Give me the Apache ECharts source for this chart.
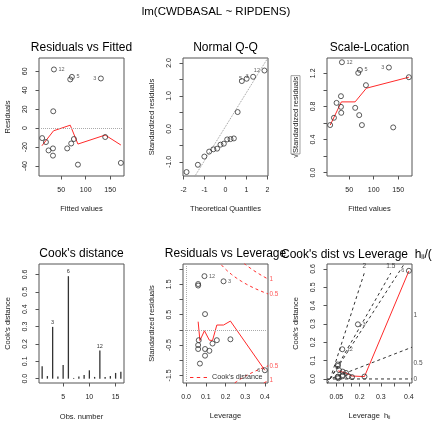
<!DOCTYPE html>
<html><head><meta charset="utf-8">
<script src="https://cdn.jsdelivr.net/npm/echarts@6/dist/echarts.min.js"></script>
<style>html,body{margin:0;padding:0;background:#fff}#c{width:432px;height:432px}</style>
</head><body><div id="c"></div>
<script>
// ---------------- data ----------------
const mainTitle = 'lm(CWDBASAL ~ RIPDENS)';
const panelTitles = ['Residuals vs Fitted', 'Normal Q-Q', 'Scale-Location', "Cook's distance", 'Residuals vs Leverage'];

// panel 1 & 3: fitted values
const fittedValues    = [11, 18.8, 24.1, 33.1, 33.1, 33.7, 35.1, 62.2, 68.4, 71.8, 70.4, 75.9, 84.1, 131, 139.8, 171.8];
const residualValues  = [-10.5, -14.7, -23.5, -21.4, -29, 17.8, 61.9, -21.4, 51.4, 54.1, -16.2, -11.5, -38.5, 52.4, -9.4, -36.7];
const sqrtAbsStdRes   = [0.575, 0.663, 0.843, 0.924, 0.795, 0.723, 1.334, 0.783, 1.205, 1.241, 0.695, 0.575, 1.057, 1.27, 0.547, 1.153];
const fittedIdIndex   = [6, 9, 13];
const fittedIdLabel   = ['12', '5', '3'];
const smoothResX = [10.6, 34.3, 68.4, 84.1, 139.8, 171.8];
const smoothResY = [-18.6, -2.8, 3.1, -16.8, -7.3, -17.8];
const smoothSLX  = [11.2, 34, 62, 85, 171.8];
const smoothSLY  = [0.575, 0.855, 0.855, 1.02, 1.153];

// panel 2: normal Q-Q
const theoQuantiles = [-1.86, -1.32, -1.01, -0.78, -0.58, -0.40, -0.24, -0.08, 0.08, 0.24, 0.40, 0.58, 0.78, 1.01, 1.32, 1.86];
const sortedStdRes  = [-1.31, -1.09, -0.84, -0.69, -0.62, -0.60, -0.48, -0.45, -0.32, -0.31, -0.29, 0.51, 1.45, 1.52, 1.58, 1.77];
const qqIdIndex = [15, 14, 13];
const qqIdLabel = ['12', '3', '5'];
const qqLineIntercept = 0.07, qqLineSlope = 1.03;

// panel 4: Cook's distance by observation
const obsNumbers = [1, 2, 3, 4, 5, 6, 7, 8, 9, 10, 11, 12, 13, 14, 15, 16];
const cooksDistance = [0.071, 0.015, 0.298, 0.013, 0.079, 0.59, 0.004, 0.013, 0.021, 0.048, 0.01, 0.162, 0.01, 0.015, 0.033, 0.04];
const cookIdObs = [3, 6, 12];

// panel 5: residuals vs leverage
const leverageValues = [0.093, 0.061, 0.061, 0.19, 0.096, 0.064, 0.061, 0.061, 0.096, 0.118, 0.096, 0.134, 0.156, 0.225, 0.07, 0.40];
const stdResLev      = [1.77, 1.51, 1.46, 1.60, 0.52, -0.34, -0.50, -0.63, -0.63, -0.69, -0.85, -0.45, -0.34, -0.31, -1.11, -1.33];
const cookOfPoint    = [0.162, 0.079, 0.071, 0.298, 0.015, 0.004, 0.01, 0.013, 0.021, 0.033, 0.04, 0.015, 0.01, 0.013, 0.048, 0.59];
const levIdIndex = [0, 3, 15];
const levIdLabel = ['12', '3', '6'];
const smoothLevX = [0.061, 0.07, 0.093, 0.118, 0.134, 0.156, 0.19, 0.225, 0.40];
const smoothLevY = [0.27, -0.35, -0.03, -0.34, -0.35, 0.16, 0.16, 0.29, -1.33];
const cookLevels = [0.5, 1];
const nCoef = 2;

// panel 6: Cook's distance vs leverage h/(1-h)
const smoothCookH = [0.064, 0.116, 0.158, 0.225, 0.40];
const smoothCookY = [0.044, 0.033, 0.016, 0.013, 0.589];
const cookContourR = [0, 0.5, 1, 1.5, 2];

// tick values / labels
const ticksFitted = [50, 100, 150];
const ticksRes = [-40, -20, 0, 20, 40, 60];
const ticksQx = [-2, -1, 0, 1, 2];
const ticksQy = [-1, -0.5, 0, 0.5, 1, 1.5, 2];
const labelsQy = [-1, 0, 1, 2];
const ticksSL = [0, 0.2, 0.4, 0.6, 0.8, 1.0, 1.2];
const labelsSL = [0, 0.4, 0.8, 1.2];
const ticksObs = [5, 10, 15];
const ticksCook = [0, 0.1, 0.2, 0.3, 0.4, 0.5, 0.6];
const ticksLevX = [0, 0.1, 0.2, 0.3, 0.4];
const ticksLevY = [-1.5, -1, -0.5, 0, 0.5, 1, 1.5, 2];
const labelsLevY = [-1.5, -0.5, 0.5, 1.5];
const ticksHat = [0.05, 0.1, 0.15, 0.2, 0.25, 0.3, 0.35, 0.4];
const labelsHat = [0.05, 0.2, 0.3, 0.4];

// ---------------- layout ----------------
const FONT = '"Liberation Sans", Arial, Helvetica, sans-serif';
const INK = '#222', BOX = '#555', RED = '#ff2a2a';
const grids = [[39,58,85,118],[183,58,85,118],[327,58,85,118],[39,264,85,119],[183,264,85,119],[327,264,85,119]];
const lims = {
  x: [[4.6,178.2],[-2.03,2.03],[4.6,178.2],[0.4,16.6],[-0.016,0.416],[-0.027,0.693]],
  y: [[-50.5,74],[-1.43,2.15],[-0.04,1.385],[-0.025,0.66],[-1.75,2.17],[-0.022,0.627]]
};
const g = h => h / (1 - h);

function axisBase(gi, lim, ticks, labels, fmt, name, gap, isY, nameRich) {
  return {
    type: 'value', gridIndex: gi, min: lim[0], max: lim[1],
    axisLine: { show: false, onZero: false }, splitLine: { show: false },
    axisTick: { show: true, length: 3.5, customValues: ticks, lineStyle: { color: BOX, width: 1 } },
    axisLabel: { show: true, customValues: labels, formatter: fmt, fontSize: 7, color: INK, fontFamily: FONT, margin: isY ? 10 : 11, rotate: isY ? 90 : 0 },
    name: name, nameLocation: 'middle', nameGap: gap,
    nameTextStyle: Object.assign({ fontSize: 7.5, color: INK, fontFamily: FONT }, nameRich ? { rich: nameRich } : {})
  };
}
const f0 = v => String(Math.round(v));
const f1 = v => v.toFixed(1);
const fHat = v => String(+(v / (1 + v)).toFixed(2));

const xAxes = [
  axisBase(0, lims.x[0], ticksFitted, ticksFitted, f0, 'Fitted values', 29, false),
  axisBase(1, lims.x[1], ticksQx, ticksQx, f0, 'Theoretical Quantiles', 29, false),
  axisBase(2, lims.x[2], ticksFitted, ticksFitted, f0, 'Fitted values', 29, false),
  axisBase(3, lims.x[3], ticksObs, ticksObs, f0, 'Obs. number', 30, false),
  axisBase(4, lims.x[4], ticksLevX, ticksLevX, f1, 'Leverage', 29, false),
  axisBase(5, lims.x[5], ticksHat.map(g), labelsHat.map(g), fHat, 'Leverage  h{s|ii}', 28, false,
    { s: { fontSize: 5, color: INK, fontFamily: FONT, padding: [4, 0, 0, 0] } })
];
const yAxes = [
  axisBase(0, lims.y[0], ticksRes, ticksRes, f0, 'Residuals', 27, true),
  axisBase(1, lims.y[1], ticksQy, labelsQy, f1, 'Standardized residuals', 27, true),
  axisBase(2, lims.y[2], ticksSL, labelsSL, f1, '{r|√}{b|Standardized residuals}', 27, true,
    { r: { fontSize: 8, color: INK, fontFamily: FONT }, b: { fontSize: 7.5, color: INK, fontFamily: FONT, borderColor: '#888', borderWidth: 0.8, padding: [1, 1, 0, 1] } }),
  axisBase(3, lims.y[3], ticksCook, ticksCook, f1, "Cook's distance", 27, true),
  axisBase(4, lims.y[4], ticksLevY, labelsLevY, f1, 'Standardized residuals', 27, true),
  axisBase(5, lims.y[5], ticksCook, ticksCook, f1, "Cook's distance", 27, true)
];

const ptStyle = { color: 'rgba(0,0,0,0)', borderColor: '#333', borderWidth: 1 };
const ptLabel = { fontSize: 5.5, color: '#333', fontFamily: FONT, distance: 1.5 };
function scatter(gi, xs, ys, idIdx, idLab, posFn) {
  return {
    type: 'scatter', xAxisIndex: gi, yAxisIndex: gi, symbol: 'circle', symbolSize: 5,
    itemStyle: ptStyle, label: ptLabel, z: 4, silent: true,
    data: xs.map((x, i) => {
      const d = { value: [x, ys[i]] };
      const k = idIdx.indexOf(i);
      if (k >= 0) d.label = { show: true, formatter: idLab[k], position: posFn(x) };
      return d;
    })
  };
}
function line(gi, xs, ys, style, extra) {
  return Object.assign({
    type: 'line', xAxisIndex: gi, yAxisIndex: gi, symbol: 'none', silent: true, clip: true, z: 3,
    lineStyle: style, data: xs.map((x, i) => [x, ys[i]])
  }, extra || {});
}
function textPts(gi, pts, color, pos, size) {
  return {
    type: 'scatter', xAxisIndex: gi, yAxisIndex: gi, symbolSize: 0, clip: false, silent: true, z: 5,
    label: { show: true, position: pos, distance: 1.5, fontSize: size, color: color, fontFamily: FONT, formatter: p => p.data.t },
    data: pts.map(p => ({ value: [p[0], p[1]], t: p[2] }))
  };
}
const redLine = { color: RED, width: 1 };
const zeroMark = (axes) => ({ silent: true, symbol: ['none', 'none'], label: { show: false },
  lineStyle: { type: 'dotted', color: '#aaa', width: 1 }, data: axes });

const series = [];
// panel 1
const mid1 = (lims.x[0][0] + lims.x[0][1]) / 2;
series.push(Object.assign(scatter(0, fittedValues, residualValues, fittedIdIndex, fittedIdLabel, x => x > mid1 ? 'left' : 'right'),
  { markLine: zeroMark([{ yAxis: 0 }]) }));
series.push(line(0, smoothResX, smoothResY, redLine));
// panel 2
series.push(scatter(1, theoQuantiles, sortedStdRes, qqIdIndex, qqIdLabel, x => x > 0 ? 'left' : 'right'));
series.push(line(1, lims.x[1], lims.x[1].map(x => qqLineIntercept + qqLineSlope * x), { color: '#999', width: 1, type: 'dotted' }));
// panel 3
series.push(scatter(2, fittedValues, sqrtAbsStdRes, fittedIdIndex, fittedIdLabel, x => x > mid1 ? 'left' : 'right'));
series.push(line(2, smoothSLX, smoothSLY, redLine));
// panel 4
series.push({
  type: 'bar', xAxisIndex: 3, yAxisIndex: 3, barWidth: 1.3, silent: true,
  itemStyle: { color: '#333' },
  label: { show: false, position: 'top', distance: 1.5, fontSize: 5.5, color: '#333', fontFamily: FONT },
  data: obsNumbers.map((n, i) => {
    const d = { value: [n, cooksDistance[i]] };
    if (cookIdObs.indexOf(n) >= 0) d.label = { show: true, formatter: String(n) };
    return d;
  })
});
// panel 5
const mid5 = (Math.min(...leverageValues) + Math.max(...leverageValues)) / 2;
series.push(Object.assign(scatter(4, leverageValues, stdResLev, levIdIndex, levIdLabel, x => x > mid5 ? 'left' : 'right'),
  { markLine: zeroMark([{ yAxis: 0 }, { xAxis: 0 }]) }));
series.push(line(4, smoothLevX, smoothLevY, redLine));
const hStart = Math.max(...leverageValues) / 100;
const hGrid = [];
for (let k = 0; k <= 100; k++) hGrid.push(hStart + (lims.x[4][1] - hStart) * k / 100);
const levLabels = [];
cookLevels.forEach((c, ci) => {
  [1, -1].forEach((s, si) => {
    series.push(line(4, hGrid, hGrid.map(h => s * Math.sqrt(c * nCoef * (1 - h) / h)),
      { color: RED, width: 1, type: [3, 3] },
      { name: (ci === 0 && si === 0) ? "Cook's distance" : 'cook' + ci + si, itemStyle: { color: RED } }));
    const xm = lims.x[4][1];
    levLabels.push([xm, s * Math.sqrt(c * nCoef * (1 - xm) / xm), String(c)]);
  });
});
series.push(textPts(4, levLabels, RED, 'right', 6.3));
// panel 6
series.push(scatter(5, leverageValues.map(g), cookOfPoint, levIdIndex, levIdLabel,
  x => x > (g(Math.min(...leverageValues)) + g(Math.max(...leverageValues))) / 2 ? 'left' : 'right'));
series.push(line(5, smoothCookH.map(g), smoothCookY, redLine));
const xmax6 = lims.x[5][1], xmin6 = lims.x[5][0], ymax6 = lims.y[5][1];
const strH = 0.033;
const rightLab = [], topLab = [];
cookContourR.forEach(b => {
  const b2 = b * b;
  const dash = { color: '#333', width: 1, type: [3, 3] };
  if (nCoef * ymax6 > b2 * xmax6) {
    series.push(line(5, [xmin6, xmax6], [b2 * xmin6, b2 * xmax6], dash));
    const xi = xmax6 + 0.004;
    rightLab.push([xmax6, b2 * xi / nCoef, String(b)]);
  } else {
    const yi = ymax6 - 1.5 * strH;
    const xi = nCoef * yi / b2;
    series.push(line(5, [0, xi], [0, yi], dash));
    topLab.push([xi, ymax6 - 0.8 * strH + 0.016, String(b)]);
  }
});
series.push(textPts(5, rightLab, INK, 'right', 6.5));
series.push(textPts(5, topLab, INK, 'inside', 6.5));

const titleStyle = { fontSize: 12, fontWeight: 'normal', color: '#000', fontFamily: FONT };
const titles = [{ text: mainTitle, left: 216, top: 6, textAlign: 'center', textStyle: Object.assign({}, titleStyle, { fontSize: 11.5 }), padding: 0 }];
panelTitles.forEach((t, i) => {
  const gr = grids[i];
  titles.push({ text: t, left: gr[0] + gr[2] / 2, top: gr[1] - 16, textAlign: 'center', textStyle: titleStyle, padding: 0 });
});
titles.push({ text: "Cook's dist vs Leverage  h{s|ii}/(1 − h{s|ii})", left: 281, top: grids[5][1] - 16, textAlign: 'left', padding: 0,
  textStyle: Object.assign({}, titleStyle, { rich: { s: { fontSize: 7, color: '#000', fontFamily: FONT, padding: [6, 0, 0, 0] } } }) });

const chart = echarts.init(document.getElementById('c'), null, { renderer: 'canvas', width: 432, height: 432 });
chart.setOption({
  animation: false,
  backgroundColor: '#fff',
  textStyle: { fontFamily: FONT },
  title: titles,
  legend: {
    data: [{ name: "Cook's distance", icon: 'path://M0,0h3v1h-3z M6,0h3v1h-3z M12,0h3v1h-3z' }],
    left: 190, top: 374, padding: 0, itemWidth: 17, itemHeight: 1.2, itemGap: 4,
    itemStyle: { color: RED, borderWidth: 0 },
    selectedMode: false, textStyle: { fontSize: 7.2, color: '#333', fontFamily: FONT }
  },
  grid: grids.map(r => ({ left: r[0], top: r[1], width: r[2], height: r[3], show: true, borderColor: BOX, borderWidth: 1, backgroundColor: 'transparent' })),
  xAxis: xAxes,
  yAxis: yAxes,
  series: series
});
</script></body></html>
